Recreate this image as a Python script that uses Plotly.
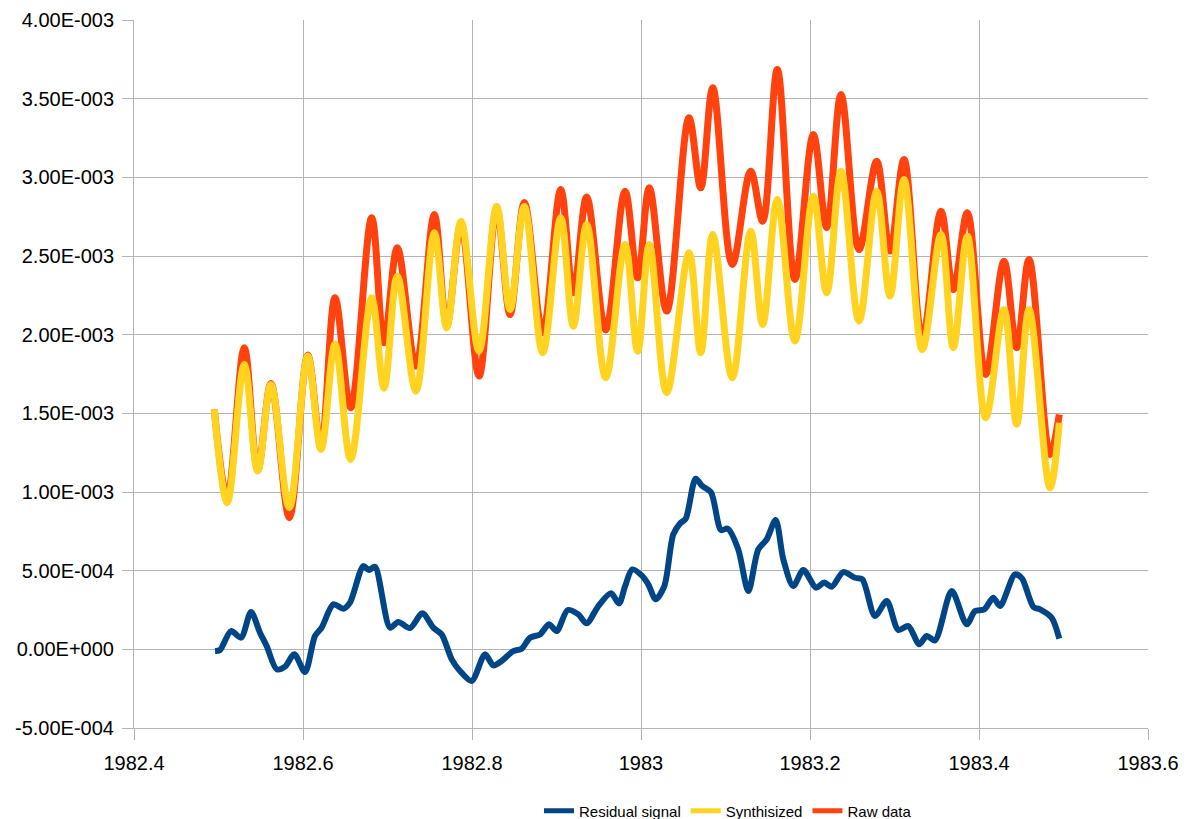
import plotly.graph_objects as go

# ---------------- data ----------------
t_wave = [1982.4950, 1982.5104, 1982.5305, 1982.5464, 1982.5621, 1982.5838, 1982.6056, 1982.6213,
          1982.6379, 1982.6564, 1982.6813, 1982.6959, 1982.7116, 1982.7337, 1982.7554, 1982.7701,
          1982.7870, 1982.8083, 1982.8292, 1982.8450, 1982.8619, 1982.8837, 1982.9050, 1982.9199,
          1982.9357, 1982.9582, 1982.9811, 1982.9961, 1983.0098, 1983.0304, 1983.0568, 1983.0707,
          1983.0849, 1983.1080, 1983.1298, 1983.1440, 1983.1613, 1983.1822, 1983.2039, 1983.2198,
          1983.2367, 1983.2580, 1983.2789, 1983.2947, 1983.3112, 1983.3329, 1983.3550, 1983.3696,
          1983.3862, 1983.4079, 1983.4296, 1983.4446, 1983.4592, 1983.4840, 1983.4950]

raw_data = [1.525, 0.966, 1.917, 1.140, 1.690, 0.837, 1.870, 1.290, 2.234, 1.535, 2.743, 1.949,
            2.552, 1.800, 2.764, 2.060, 2.700, 1.737, 2.800, 2.128, 2.840, 2.012, 2.922, 2.266,
            2.875, 2.029, 2.912, 2.361, 2.933, 2.150, 3.378, 2.933, 3.569, 2.446, 3.039, 2.721,
            3.685, 2.351, 3.272, 2.680, 3.526, 2.541, 3.102, 2.531, 3.113, 1.970, 2.785, 2.287,
            2.775, 1.747, 2.467, 1.917, 2.478, 1.239, 1.493]

synthisized = [1.525, 0.932, 1.810, 1.133, 1.684, 0.900, 1.864, 1.270, 1.940, 1.207, 2.234, 1.660,
               2.372, 1.641, 2.647, 2.044, 2.721, 1.895, 2.817, 2.160, 2.817, 1.885, 2.743, 2.054,
               2.700, 1.726, 2.573, 1.895, 2.573, 1.631, 2.520, 1.885, 2.637, 1.726, 2.658, 2.065,
               2.859, 1.959, 2.880, 2.266, 3.039, 2.086, 2.912, 2.245, 2.986, 1.906, 2.637, 1.917,
               2.626, 1.472, 2.160, 1.430, 2.160, 1.027, 1.440]

t_resid = [1982.4959, 1982.5018, 1982.5148, 1982.5266, 1982.5385, 1982.5491, 1982.5570, 1982.5689,
           1982.5787, 1982.5897, 1982.6024, 1982.6142, 1982.6221, 1982.6359, 1982.6477, 1982.6556,
           1982.6714, 1982.6781, 1982.6852, 1982.7030, 1982.7128, 1982.7266, 1982.7412, 1982.7542,
           1982.7641, 1982.7760, 1982.7858, 1982.7996, 1982.8154, 1982.8252, 1982.8351, 1982.8489,
           1982.8588, 1982.8686, 1982.8805, 1982.8911, 1982.9002, 1982.9133, 1982.9258, 1982.9357,
           1982.9495, 1982.9645, 1982.9740, 1982.9811, 1982.9897, 1983.0008, 1983.0086, 1983.0174,
           1983.0276, 1983.0382, 1983.0462, 1983.0529, 1983.0647, 1983.0725, 1983.0828, 1983.0947,
           1983.1026, 1983.1151, 1983.1270, 1983.1388, 1983.1488, 1983.1594, 1983.1684, 1983.1802,
           1983.1921, 1983.2071, 1983.2169, 1983.2257, 1983.2394, 1983.2533, 1983.2619, 1983.2769,
           1983.2908, 1983.3045, 1983.3163, 1983.3293, 1983.3381, 1983.3479, 1983.3677, 1983.3854,
           1983.3953, 1983.4063, 1983.4169, 1983.4249, 1983.4426, 1983.4509, 1983.4643, 1983.4722,
           1983.4860, 1983.4950]

residual = [-0.011, -0.004, 0.116, 0.074, 0.237, 0.106, 0.021, -0.127, -0.110, -0.032, -0.144, 0.085,
            0.138, 0.286, 0.258, 0.297, 0.529, 0.504, 0.525, 0.138, 0.174, 0.135, 0.229, 0.138,
            0.095, -0.064, -0.138, -0.201, -0.032, -0.102, -0.074, -0.011, 0.004, 0.074, 0.095, 0.159,
            0.116, 0.250, 0.222, 0.165, 0.275, 0.356, 0.292, 0.400, 0.508, 0.470, 0.413, 0.318,
            0.402, 0.731, 0.800, 0.830, 1.085, 1.038, 0.999, 0.758, 0.767, 0.635, 0.370, 0.635,
            0.699, 0.822, 0.572, 0.402, 0.504, 0.392, 0.424, 0.398, 0.491, 0.455, 0.445, 0.212,
            0.307, 0.123, 0.148, 0.032, 0.085, 0.057, 0.370, 0.159, 0.243, 0.254, 0.328, 0.275,
            0.476, 0.450, 0.270, 0.254, 0.201, 0.068]

scale = 1e-3  # values above are in units of 1e-3

x_ticks = [1982.4, 1982.6, 1982.8, 1983.0, 1983.2, 1983.4, 1983.6]
x_tick_labels = ["1982.4", "1982.6", "1982.8", "1983", "1983.2", "1983.4", "1983.6"]
y_ticks = [-5e-4, 0, 5e-4, 1e-3, 1.5e-3, 2e-3, 2.5e-3, 3e-3, 3.5e-3, 4e-3]
y_tick_labels = ["-5.00E-004", "0.00E+000", "5.00E-004", "1.00E-003", "1.50E-003",
                 "2.00E-003", "2.50E-003", "3.00E-003", "3.50E-003", "4.00E-003"]

series_names = ["Residual signal", "Synthisized", "Raw data"]
series_colors = ["#004586", "#ffd320", "#ff420e"]

# ---------------- figure ----------------
fig = go.Figure()

fig.add_trace(go.Scatter(x=t_wave, y=[v * scale for v in raw_data], mode="lines",
                         line=dict(color=series_colors[2], width=7, shape="spline", smoothing=1.0),
                         showlegend=False, name=series_names[2]))
fig.add_trace(go.Scatter(x=t_wave, y=[v * scale for v in synthisized], mode="lines",
                         line=dict(color=series_colors[1], width=7, shape="spline", smoothing=1.0),
                         showlegend=False, name=series_names[1]))
fig.add_trace(go.Scatter(x=t_resid, y=[v * scale for v in residual], mode="lines",
                         line=dict(color=series_colors[0], width=6, shape="spline", smoothing=0.8),
                         showlegend=False, name=series_names[0]))

# legend entries (thinner swatches, like the reference)
for name, color in zip(series_names, series_colors):
    fig.add_trace(go.Scatter(x=[None], y=[None], mode="lines", name=name,
                             line=dict(color=color, width=5), showlegend=True))

grid = "#b3b3b3"
W, H = 1182, 811  # page body adds an 8px margin
fig.update_layout(
    width=W, height=H,
    margin=dict(l=126, r=42, t=12, b=91, autoexpand=False),
    paper_bgcolor="white", plot_bgcolor="white",
    font=dict(family="Liberation Sans, Arial, sans-serif", color="black"),
    showlegend=True,
    legend=dict(orientation="h", xref="container", yref="container",
                x=(728 - 8) / W, xanchor="center", y=1 - (811 - 8) / H, yanchor="middle",
                font=dict(size=15), itemwidth=30, bgcolor="rgba(0,0,0,0)"),
)
fig.update_xaxes(range=[1982.4, 1983.6], tickvals=x_ticks, ticktext=x_tick_labels,
                 showgrid=True, gridcolor=grid, gridwidth=1,
                 showline=True, linecolor=grid, linewidth=1,
                 ticks="outside", ticklen=11, tickcolor=grid,
                 tickfont=dict(size=20), zeroline=False, ticklabelstandoff=6)
fig.update_yaxes(range=[-5e-4, 4e-3], tickvals=y_ticks, ticktext=y_tick_labels,
                 showgrid=True, gridcolor=grid, gridwidth=1,
                 showline=True, linecolor=grid, linewidth=1,
                 ticks="outside", ticklen=11, tickcolor=grid,
                 tickfont=dict(size=20), zeroline=False, ticklabelstandoff=4)

fig.write_html("out.html")
